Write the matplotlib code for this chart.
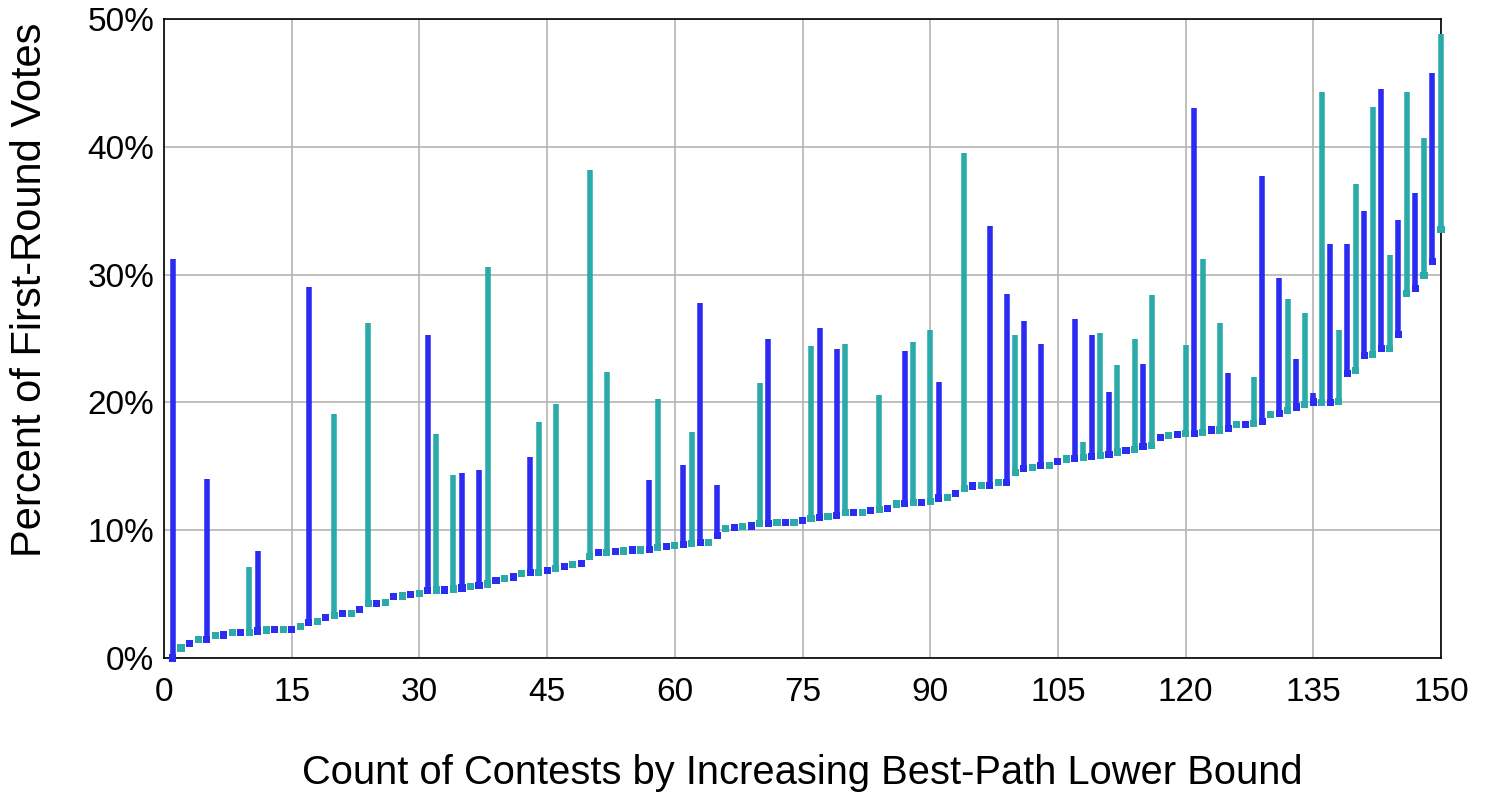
import numpy as np
import matplotlib
matplotlib.use("Agg")
import matplotlib.pyplot as plt
from matplotlib.ticker import FuncFormatter

plt.rcParams['font.family'] = ['Liberation Sans', 'DejaVu Sans']

# lower bound (%) of each contest, in order 1..150
lower = [
    0.00, 0.78, 1.12, 1.46, 1.46, 1.75, 1.80, 1.96, 2.03, 2.00,
    2.11, 2.19, 2.20, 2.20, 2.24, 2.48, 2.79, 2.87, 3.20, 3.31,
    3.47, 3.47, 3.78, 4.25, 4.30, 4.36, 4.80, 4.85, 4.98, 5.03,
    5.27, 5.32, 5.32, 5.40, 5.48, 5.63, 5.69, 5.79, 6.03, 6.20,
    6.34, 6.63, 6.70, 6.70, 6.83, 6.99, 7.14, 7.33, 7.36, 7.95,
    8.24, 8.29, 8.35, 8.37, 8.45, 8.45, 8.50, 8.63, 8.71, 8.79,
    8.87, 8.94, 9.05, 9.05, 9.60, 10.10, 10.23, 10.30, 10.33, 10.49,
    10.52, 10.59, 10.59, 10.62, 10.78, 10.95, 11.00, 11.06, 11.14, 11.35,
    11.37, 11.37, 11.53, 11.60, 11.71, 12.05, 12.07, 12.18, 12.20, 12.28,
    12.52, 12.55, 12.90, 13.25, 13.46, 13.50, 13.50, 13.70, 13.75, 14.54,
    14.84, 14.92, 15.08, 15.08, 15.36, 15.57, 15.63, 15.67, 15.75, 15.88,
    15.94, 16.12, 16.22, 16.33, 16.53, 16.64, 17.24, 17.42, 17.50, 17.55,
    17.60, 17.68, 17.84, 17.84, 17.94, 18.25, 18.25, 18.36, 18.47, 19.04,
    19.15, 19.40, 19.64, 19.87, 20.03, 19.98, 20.00, 20.06, 22.25, 22.50,
    23.70, 23.78, 24.20, 24.20, 25.30, 28.50, 28.90, 29.95, 31.00, 33.50,
]

# contests whose range is wider than the lower bound, and their upper value (%)
gap_idx = [1, 5, 10, 11, 17, 20, 24, 31, 32, 34, 35, 37, 38, 43, 44, 46, 50, 52,
           57, 58, 61, 62, 63, 65, 70, 71, 76, 77, 79, 80, 84, 87, 88, 90, 91,
           94, 97, 99, 100, 101, 103, 107, 108, 109, 110, 111, 112, 114, 115,
           116, 120, 121, 122, 124, 125, 128, 129, 131, 132, 133, 134, 135,
           136, 137, 138, 139, 140, 141, 142, 143, 144, 145, 146, 147, 148,
           149, 150]
gap_top = [31.2, 14.0, 7.1, 8.4, 29.0, 19.1, 26.2, 25.3, 17.5, 14.3, 14.5, 14.7,
           30.6, 15.7, 18.5, 19.9, 38.2, 22.4, 13.9, 20.3, 15.1, 17.7, 27.8,
           13.5, 21.5, 25.0, 24.4, 25.8, 24.2, 24.6, 20.6, 24.0, 24.7, 25.7,
           21.6, 39.5, 33.8, 28.5, 25.3, 26.4, 24.6, 26.5, 16.9, 25.3, 25.4,
           20.8, 22.9, 25.0, 23.0, 28.4, 24.5, 43.0, 31.2, 26.2, 22.3, 22.0,
           37.7, 29.7, 28.1, 23.4, 27.0, 20.7, 44.3, 32.4, 25.7, 32.4, 37.1,
           35.0, 43.1, 44.5, 31.5, 34.3, 44.3, 36.4, 40.7, 45.8, 48.8]

x_ticks = [0, 15, 30, 45, 60, 75, 90, 105, 120, 135, 150]
y_ticks = [0, 10, 20, 30, 40, 50]

blue = '#2b2bf2'
teal = '#2aabaa'

n = len(lower)
idx = np.arange(1, n + 1)
low = np.array(lower)
upper = low.copy()
upper[np.array(gap_idx) - 1] = gap_top
colors = [blue if i % 2 == 1 else teal for i in idx]

fig = plt.figure(figsize=(14.88, 7.93), dpi=100)
ax = fig.add_axes([164 / 1488, 1 - 658 / 793, 1277 / 1488, 639 / 793])

ax.vlines(idx, low, upper, colors=colors, linewidth=4.0, zorder=3, clip_on=False)
ax.scatter(idx, low, marker='s', s=26, c=colors, edgecolors='none', zorder=4, clip_on=False)

ax.set_xlim(0, 150)
ax.set_ylim(0, 50)
ax.set_xticks(x_ticks)
ax.set_yticks(y_ticks)
ax.yaxis.set_major_formatter(FuncFormatter(lambda v, p: f'{v:.0f}%'))
ax.tick_params(axis='both', length=0, labelsize=24)
ax.tick_params(axis='x', pad=14)
ax.tick_params(axis='y', pad=7)
ax.grid(True, color='#b4b4b4', linewidth=1.2, zorder=0)
ax.set_axisbelow(True)
for s in ax.spines.values():
    s.set_color('black')
    s.set_linewidth(1.2)

ax.set_xlabel('Count of Contests by Increasing Best-Path Lower Bound', fontsize=28.7)
ax.set_ylabel('Percent of First-Round Votes', fontsize=30)
ax.xaxis.set_label_coords(0.5, -0.150)
ax.yaxis.set_label_coords(-0.089, 0.576)

fig.savefig('out.png', dpi=100)
